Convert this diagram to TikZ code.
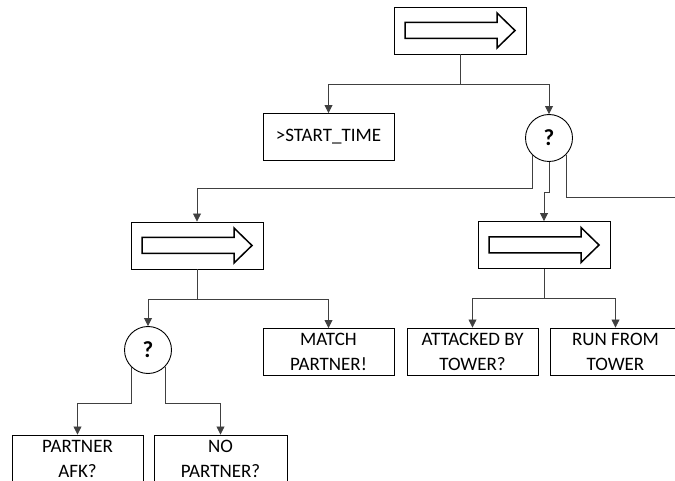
\documentclass[tikz,border=0pt]{standalone}
\usepackage{fontspec}
\setmainfont{Carlito}
\usetikzlibrary{arrows.meta}

\tikzset{
  task/.style={draw=black, line width=0.9pt, rectangle, minimum width=131pt,
    minimum height=47pt, align=center, inner sep=0pt,
    font=\fontsize{19}{25}\selectfont},
  seqbox/.style={draw=black, line width=0.9pt, rectangle, minimum width=132pt,
    minimum height=47pt, inner sep=0pt},
  selector/.style={draw=black, line width=0.9pt, circle, minimum size=47pt,
    inner sep=0pt, font=\fontsize{23}{26}\selectfont\bfseries},
  link/.style={draw=black!75, line width=0.8pt},
  linkarrow/.style={link, -{Triangle[length=8pt,width=8pt]}},
  seqarrow/.pic={
    \draw[line width=1.5pt, fill=white, line join=miter]
      (-55,-8) -- (37,-8) -- (37,-17.5) -- (55,0) -- (37,17.5) -- (37,8)
      -- (-55,8) -- cycle;
  }
}

\begin{document}
\begin{tikzpicture}[x=1pt, y=-1pt]
  \clip (0,0) rectangle (675,481);
  \useasboundingbox (0,0) rectangle (675,481);

  % sequence and selector nodes
  \node[seqbox] (seq1) at (460,30.5) {};
  \pic at (seq1.center) {seqarrow};

  \node[task] (start) at (328.5,137) {>START\_TIME};
  \node[selector] (sel1) at (549,138) {?};

  \node[seqbox] (seq2) at (197,245.5) {};
  \pic at (seq2.center) {seqarrow};
  \node[seqbox] (seq3) at (544,245) {};
  \pic at (seq3.center) {seqarrow};

  \node[selector] (sel2) at (148,350) {?};
  \node[task] (match) at (328.5,352) {MATCH\\PARTNER!};
  \node[task] (attacked) at (472.5,351.5) {ATTACKED BY\\TOWER?};
  \node[task] (run) at (615.5,351.5) {RUN FROM\\TOWER};

  \node[task, minimum height=48pt] (afk) at (77.5,459) {PARTNER\\AFK?};
  \node[task, minimum width=133pt, minimum height=48pt] (nopartner) at (220.5,459) {NO\\PARTNER?};

  \coordinate (offright) at (690,197);

  % connectors
  \draw[linkarrow] (seq1.south) -- ++(0,30) -| (start.north);
  \draw[linkarrow] (seq1.south) -- ++(0,30) -| (sel1.north);

  \draw[linkarrow] (sel1.south west) -- ++(0,33.5) -| (seq2.north);
  \draw[linkarrow] (sel1.south) -- ++(0,30) -| (seq3.north);
  \draw[link] (sel1.south east) |- (offright);

  \draw[linkarrow] (seq2.south) -- ++(0,30) -| (sel2.north);
  \draw[linkarrow] (seq2.south) -- ++(0,30) -| (match.north);

  \draw[linkarrow] (seq3.south) -- ++(0,29) -| (attacked.north);
  \draw[linkarrow] (seq3.south) -- ++(0,29) -| (run.north);

  \draw[linkarrow] (sel2.south west) -- ++(0,36) -| (afk.north);
  \draw[linkarrow] (sel2.south east) -- ++(0,36) -| (nopartner.north);
\end{tikzpicture}
\end{document}
